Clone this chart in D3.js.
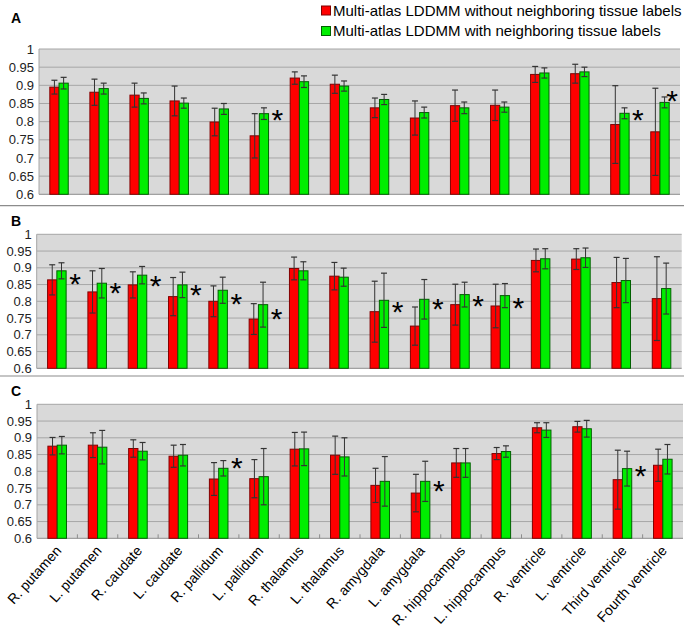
<!DOCTYPE html>
<html><head><meta charset="utf-8">
<script src="https://cdn.jsdelivr.net/npm/d3@7"></script>
<style>body{margin:0;background:#fff;} svg{display:block;font-family:Arial,"Liberation Sans",sans-serif;}</style>
</head><body>
<svg id="chart" width="689" height="628"></svg>
<script>
const categories = ["R. putamen","L. putamen","R. caudate","L. caudate","R. pallidum","L. pallidum","R. thalamus","L. thalamus","R. amygdala","L. amygdala","R. hippocampus","L. hippocampus","R. ventricle","L. ventricle","Third ventricle","Fourth ventricle"];
const seriesNames = ["Multi-atlas LDDMM without neighboring tissue labels","Multi-atlas LDDMM with neighboring tissue labels"];
const yTicks = [0.6,0.65,0.7,0.75,0.8,0.85,0.9,0.95,1];
const panelLabels = ["A","B","C"];

// Panel A
const aWithout   = [0.895,0.881,0.873,0.857,0.799,0.761,0.920,0.903,0.838,0.810,0.844,0.845,0.930,0.932,0.792,0.772];
const aWithoutSd = [0.019,0.036,0.033,0.041,0.038,0.061,0.017,0.025,0.027,0.047,0.043,0.042,0.022,0.026,0.107,0.120];
const aWith      = [0.906,0.891,0.864,0.851,0.835,0.822,0.910,0.898,0.861,0.825,0.838,0.840,0.934,0.937,0.823,0.853];
const aWithSd    = [0.016,0.015,0.015,0.014,0.015,0.016,0.016,0.014,0.014,0.015,0.016,0.014,0.014,0.013,0.015,0.015];
const aStars = [{i:5,v:0.825},{i:14,v:0.825},{i:15,v:0.876}];

// Panel B
const bWithout   = [0.864,0.828,0.849,0.814,0.800,0.747,0.898,0.875,0.769,0.726,0.790,0.786,0.922,0.926,0.856,0.808];
const bWithoutSd = [0.045,0.063,0.039,0.057,0.046,0.046,0.034,0.041,0.091,0.057,0.061,0.065,0.034,0.031,0.075,0.125];
const bWith      = [0.891,0.854,0.878,0.849,0.833,0.790,0.891,0.872,0.803,0.806,0.820,0.817,0.927,0.930,0.862,0.838];
const bWithSd    = [0.024,0.044,0.026,0.038,0.039,0.067,0.027,0.027,0.081,0.059,0.037,0.036,0.030,0.029,0.066,0.076];
const bStars = [{i:0,v:0.873},{i:1,v:0.846},{i:2,v:0.867},{i:3,v:0.839},{i:4,v:0.814},{i:5,v:0.769},{i:8,v:0.791},{i:9,v:0.799},{i:10,v:0.808},{i:11,v:0.801}];

// Panel C
const cWithout   = [0.875,0.878,0.868,0.845,0.777,0.778,0.866,0.848,0.758,0.735,0.825,0.853,0.930,0.933,0.775,0.818];
const cWithoutSd = [0.026,0.037,0.026,0.033,0.049,0.057,0.050,0.057,0.051,0.056,0.043,0.018,0.015,0.016,0.088,0.048];
const cWith      = [0.878,0.872,0.860,0.848,0.809,0.784,0.867,0.843,0.770,0.770,0.825,0.859,0.923,0.927,0.808,0.836];
const cWithSd    = [0.026,0.050,0.026,0.032,0.023,0.084,0.050,0.057,0.074,0.060,0.043,0.017,0.022,0.025,0.052,0.044];
const cStars = [{i:4,v:0.831},{i:9,v:0.764},{i:14,v:0.808}];

const colors = ["#ff0000","#00ee00"];
const strokes = ["#800000","#006000"];

const panels = [
  {label:panelLabels[0], means:[aWithout,aWith], sds:[aWithoutSd,aWithSd], stars:aStars, left:39, right:680, top:49, bottom:194.3, labelY:23.3, ticks:false},
  {label:panelLabels[1], means:[bWithout,bWith], sds:[bWithoutSd,bWithSd], stars:bStars, left:36.7, right:681.7, top:234.3, bottom:368.3, labelY:226, ticks:false},
  {label:panelLabels[2], means:[cWithout,cWith], sds:[cWithoutSd,cWithSd], stars:cStars, left:37, right:683, top:404.3, bottom:538.3, labelY:396, ticks:true}
];

const svg = d3.select("#chart");

// separators
[205.7, 376].forEach(y => svg.append("line").attr("x1",0).attr("x2",684).attr("y1",y).attr("y2",y).attr("stroke","#8c8c8c").attr("stroke-width",1.2));

// legend
seriesNames.forEach((n,k) => {
  const y0 = k===0 ? 6 : 26.5;
  svg.append("rect").attr("x",321.5).attr("y",y0).attr("width",9).attr("height",9)
    .attr("fill",colors[k]).attr("stroke",strokes[k]).attr("stroke-width",1);
  svg.append("text").attr("x",333).attr("y",y0+9.5).attr("font-size",15).attr("fill","#000").text(n);
});

panels.forEach((p,pi) => {
  const x = d3.scaleBand().domain(categories).range([p.left,p.right]).paddingInner(0.54).paddingOuter(0.27);
  const step = x.step();
  const xs = d3.scaleBand().domain([0,1]).range([0,x.bandwidth()]);
  const y = d3.scaleLinear().domain([0.6,1]).range([p.bottom,p.top]);
  const g = svg.append("g");

  g.append("rect").attr("x",p.left).attr("y",p.top).attr("width",p.right-p.left).attr("height",p.bottom-p.top).attr("fill","#d9d9d9");
  g.append("g").selectAll("line").data(yTicks).join("line")
    .attr("x1",p.left).attr("x2",p.right).attr("y1",d=>y(d)).attr("y2",d=>y(d))
    .attr("stroke", d => d===0.6 ? "#8c8c8c" : "#a6a6a6").attr("stroke-width",1);
  g.append("line").attr("x1",p.left).attr("x2",p.left).attr("y1",p.top).attr("y2",p.bottom).attr("stroke","#a6a6a6");

  const ya = d3.axisLeft(y).tickValues(yTicks).tickFormat(d3.format("")).tickSize(0).tickPadding(5);
  const yg = g.append("g").attr("transform",`translate(${p.left},0)`).call(ya);
  yg.select(".domain").remove();
  yg.selectAll("text").attr("font-size",13).attr("font-family","Arial,'Liberation Sans',sans-serif").attr("fill","#222");

  if (p.ticks) {
    g.append("g").selectAll("line").data(d3.range(1,categories.length)).join("line")
      .attr("x1",i=>p.left+i*step).attr("x2",i=>p.left+i*step)
      .attr("y1",p.bottom).attr("y2",p.bottom-4).attr("stroke","#8c8c8c");
  }

  [0,1].forEach(k => {
    const gg = g.append("g");
    gg.selectAll("rect").data(categories).join("rect")
      .attr("x",(c)=>x(c)+xs(k)).attr("width",xs.bandwidth())
      .attr("y",(c,i)=>y(p.means[k][i])).attr("height",(c,i)=>y(0.6)-y(p.means[k][i]))
      .attr("fill",colors[k]).attr("stroke",strokes[k]).attr("stroke-width",1);
    const eb = gg.selectAll("g.eb").data(categories).join("g").attr("class","eb");
    const cx = c => x(c)+xs(k)+xs.bandwidth()/2;
    eb.append("line").attr("x1",cx).attr("x2",cx)
      .attr("y1",(c,i)=>y(p.means[k][i]+p.sds[k][i])).attr("y2",(c,i)=>y(Math.max(0.6,p.means[k][i]-p.sds[k][i])))
      .attr("stroke","#333").attr("stroke-width",1);
    eb.append("line").attr("x1",c=>cx(c)-3).attr("x2",c=>cx(c)+3)
      .attr("y1",(c,i)=>y(p.means[k][i]+p.sds[k][i])).attr("y2",(c,i)=>y(p.means[k][i]+p.sds[k][i]))
      .attr("stroke","#333").attr("stroke-width",1.2);
    eb.filter((c,i)=>p.means[k][i]-p.sds[k][i] > 0.6).append("line").attr("x1",c=>cx(c)-3).attr("x2",c=>cx(c)+3)
      .attr("y1",(c,i)=>y(p.means[k][i]-p.sds[k][i])).attr("y2",(c,i)=>y(p.means[k][i]-p.sds[k][i]))
      .attr("stroke","#333").attr("stroke-width",1.2);
  });

  const fs = 30;
  g.append("g").selectAll("text").data(p.stars).join("text")
    .attr("x", d => Math.min(p.left + (d.i+1)*step - 2, p.right - 8)).attr("y", d => y(d.v) + 0.574*fs)
    .attr("text-anchor","middle").attr("font-size",fs).attr("fill","#000").text("*");

  svg.append("text").attr("x",11).attr("y",p.labelY).attr("font-size",14).attr("font-weight","bold").text(p.label);

  if (pi===2) {
    g.append("g").selectAll("text").data(categories).join("text")
      .attr("text-anchor","end").attr("font-size",14).attr("fill","#000")
      .attr("transform", c => `translate(${x(c)+x.bandwidth()/2+5},${p.bottom+13}) rotate(-48)`)
      .text(c=>c);
  }
});
</script>
</body></html>
